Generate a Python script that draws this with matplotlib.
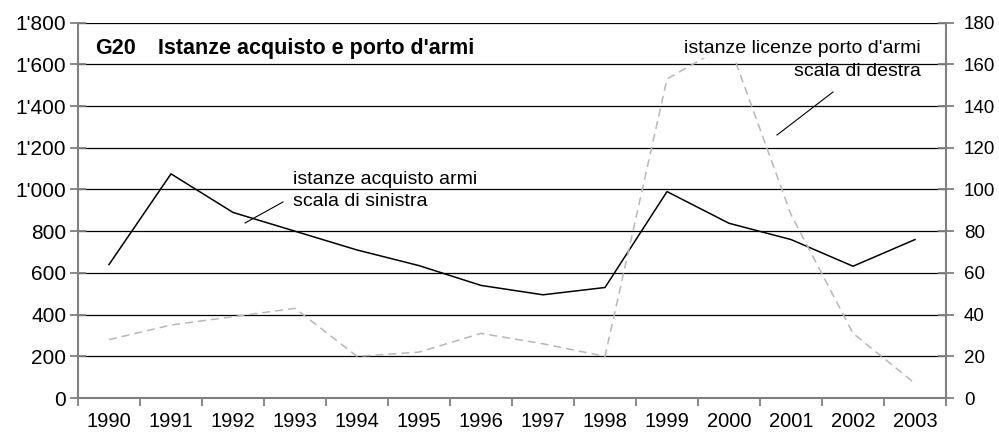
import matplotlib
matplotlib.use("Agg")
from matplotlib import pyplot as plt
from matplotlib.ticker import FuncFormatter
import numpy as np

plt.rcParams['font.family'] = ['Liberation Sans', 'DejaVu Sans']

years = ['1990', '1991', '1992', '1993', '1994', '1995', '1996',
         '1997', '1998', '1999', '2000', '2001', '2002', '2003']
acquisto = [640, 1075, 890, 800, 710, 635, 540, 495, 530, 990, 838, 760, 632, 760]
porto = [28, 35, 39, 43, 20, 22, 31, 26, 20, 153, 170, 88, 31, 7]

AXIS_GREY = '#808080'
pos = np.arange(len(years)) + 0.5

fig = plt.figure(figsize=(9.99, 4.36), dpi=100)
ax = fig.add_axes([78 / 999, 38 / 436, 868 / 999, 375.3 / 436])
ax2 = ax.twinx()

# horizontal grid at every left-scale tick
for v in range(200, 1801, 200):
    ax.axhline(v, color='black', lw=0.9, zorder=1)

ax.plot(pos, acquisto, color='black', lw=1.1, zorder=3)
ax2.plot(pos, porto, color='#b8b8b8', lw=1.1, dashes=(5.2, 3.3), zorder=3)

ax.set_xlim(0, len(years))
ax.set_ylim(0, 1800)
ax2.set_ylim(0, 180)
ax.set_yticks(range(0, 1801, 200))
ax2.set_yticks(range(0, 181, 20))
ax.yaxis.set_major_formatter(FuncFormatter(lambda v, p: f"{int(v):,}".replace(',', "'")))

ax.set_xticks(np.arange(len(years) + 1))
ax.set_xticklabels([])
ax.set_xticks(pos, minor=True)
ax.set_xticklabels(years, minor=True, fontsize=14.5)
ax.tick_params(axis='x', which='major', direction='out', length=6, width=1.3, color=AXIS_GREY)
ax.tick_params(axis='x', which='minor', length=0, pad=10)
ax.tick_params(axis='y', direction='inout', length=11, width=1.3, color=AXIS_GREY,
               labelsize=15, pad=3)
ax2.tick_params(axis='y', direction='inout', length=11, width=1.3, color=AXIS_GREY,
                labelsize=13.5, pad=7.5)

for s in ['top', 'right']:
    ax.spines[s].set_visible(False)
for s in ['left', 'bottom']:
    ax.spines[s].set_color(AXIS_GREY)
    ax.spines[s].set_linewidth(1.5)
for s in ['top', 'left', 'bottom']:
    ax2.spines[s].set_visible(False)
ax2.spines['right'].set_color(AXIS_GREY)
ax2.spines['right'].set_linewidth(1.5)


def px(x, y):
    # figure pixels -> axes fraction
    return (x - 78) / 868, (398 - y) / 375.3


tr = ax2.transAxes
ax2.text(*px(95, 49), 'G20', transform=tr, fontsize=15.5, fontweight='bold', va='center')
ax2.text(*px(158, 49), "Istanze acquisto e porto d'armi", transform=tr,
         fontsize=15.5, fontweight='bold', va='center')

ax2.text(*px(293, 180), 'istanze acquisto armi', transform=tr, fontsize=14, va='center')
ax2.text(*px(293, 202), 'scala di sinistra', transform=tr, fontsize=14, va='center')
ax2.plot(*zip(px(283, 202), px(245, 223)), transform=tr, color='black', lw=0.8)

ax2.text(*px(921, 49), "istanze licenze porto d'armi", transform=tr, fontsize=14,
         va='center', ha='right', zorder=5,
         bbox=dict(facecolor='white', edgecolor='none', pad=0.5))
ax2.text(*px(921, 72), 'scala di destra', transform=tr, fontsize=14, va='center', ha='right')
ax2.plot(*zip(px(833, 92), px(777, 135)), transform=tr, color='black', lw=0.8)

fig.savefig('out.png', dpi=100)
